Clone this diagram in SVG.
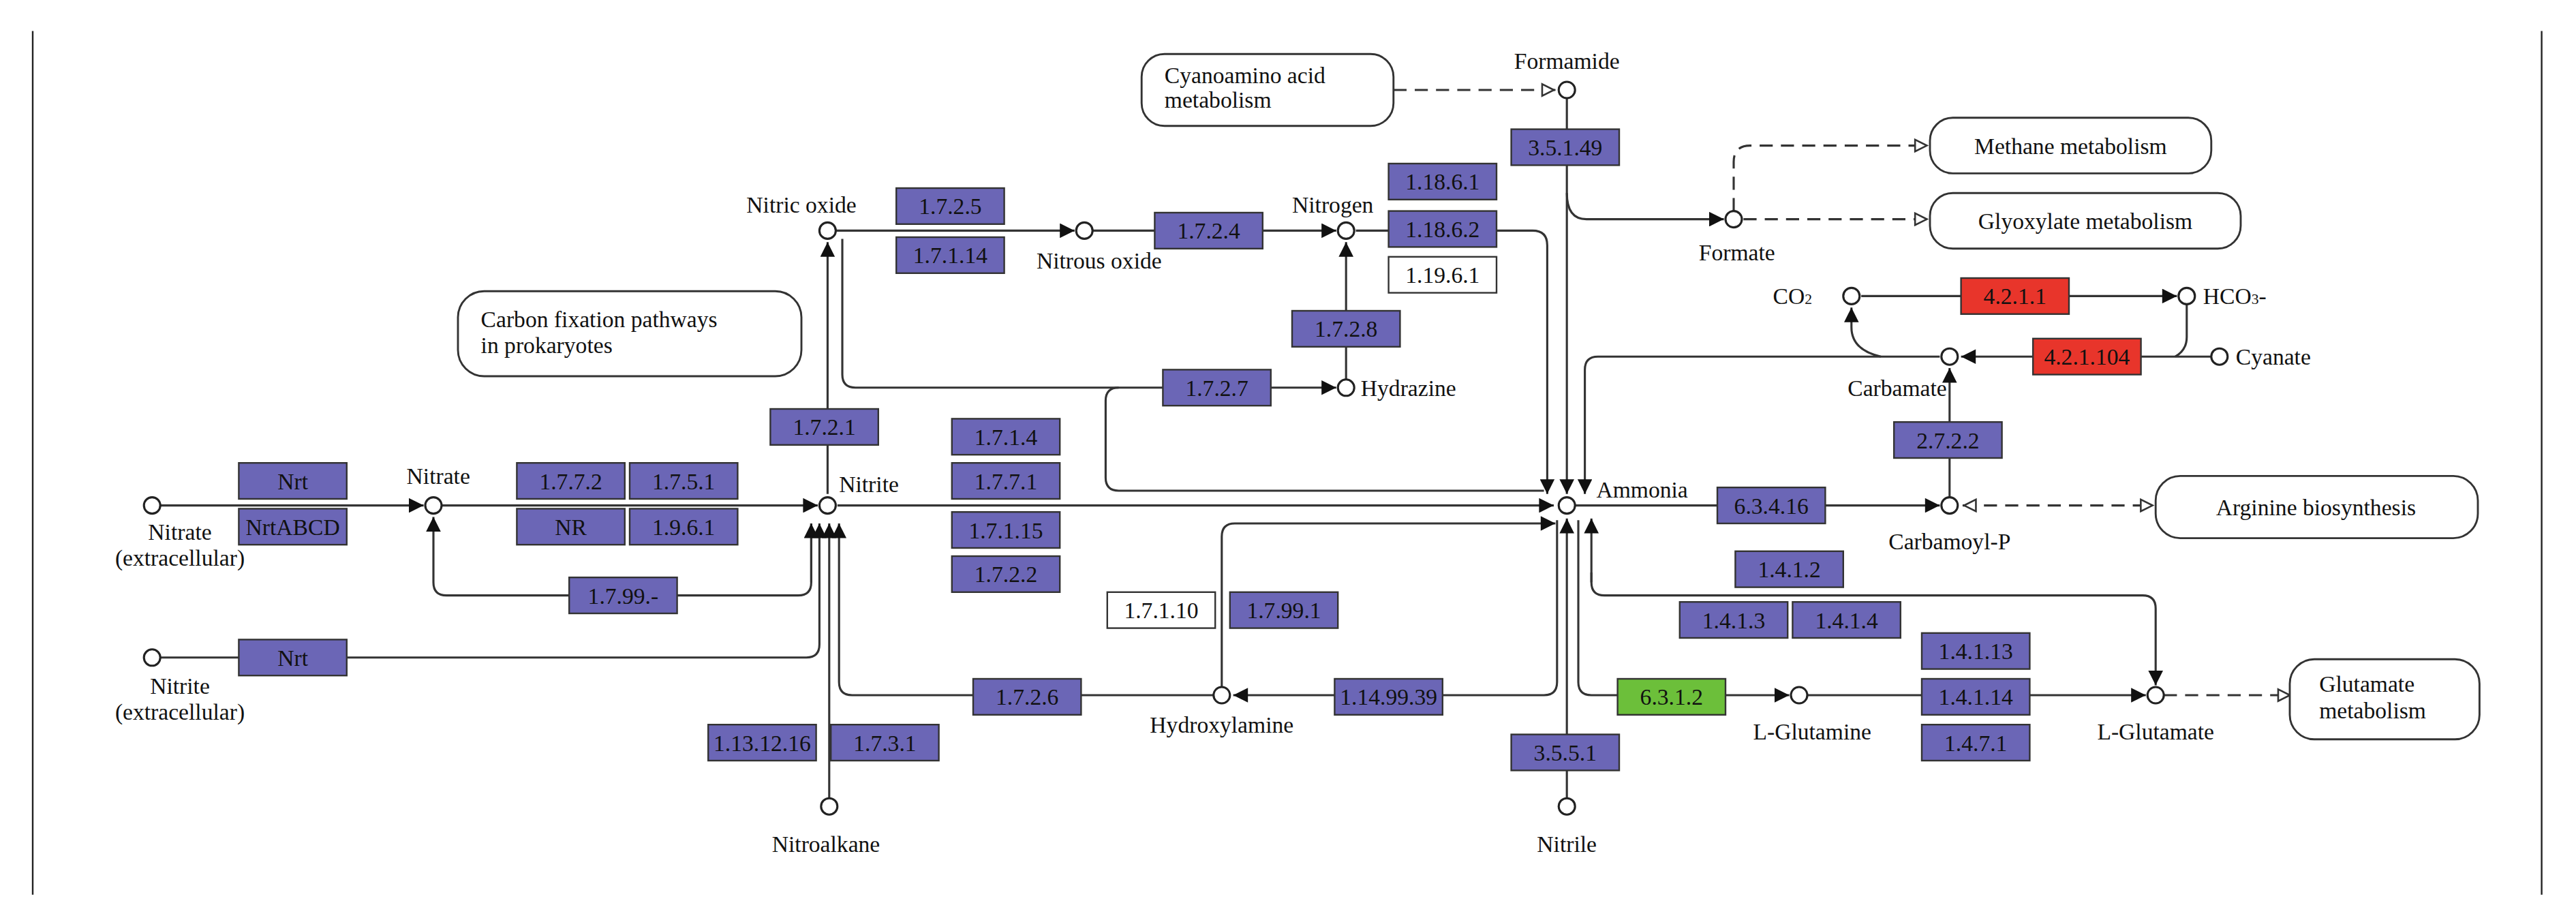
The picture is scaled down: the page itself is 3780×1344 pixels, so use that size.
<svg xmlns="http://www.w3.org/2000/svg" width="3780" height="1344" viewBox="0 0 3780 1344">
<defs>
<style>
.e{fill:#6b66b6;stroke:#333;stroke-width:1}
.w{fill:#fff;stroke:#333;stroke-width:1}
.r{fill:#e8352b;stroke:#333;stroke-width:1}
.g{fill:#6cbf3a;stroke:#333;stroke-width:1}
.et{font-family:"Liberation Serif","Times New Roman",serif;font-size:14px;fill:#111;text-anchor:middle}
.t{font-family:"Liberation Serif","Times New Roman",serif;font-size:14px;fill:#111}
.m{fill:#fff;stroke:#333;stroke-width:1.2}
.c{fill:#fff;stroke:#222;stroke-width:1.3}
.l{fill:none;stroke:#333;stroke-width:1.3}
.d{fill:none;stroke:#333;stroke-width:1.3;stroke-dasharray:8,5}
</style>
<marker id="a" viewBox="0 0 10 10" refX="10" refY="5" markerWidth="10" markerHeight="9" markerUnits="userSpaceOnUse" orient="auto"><path d="M0,0L10,5L0,10z" fill="#111"/></marker>
<marker id="o" viewBox="0 0 10 10" refX="10" refY="5" markerWidth="10" markerHeight="9" markerUnits="userSpaceOnUse" orient="auto"><path d="M1,1L9,5L1,9z" fill="#fff" stroke="#333" stroke-width="1.2"/></marker>
<marker id="os" viewBox="0 0 10 10" refX="0" refY="5" markerWidth="10" markerHeight="9" markerUnits="userSpaceOnUse" orient="auto"><path d="M9,1L1,5L9,9z" fill="#fff" stroke="#333" stroke-width="1.2"/></marker>
</defs>
<rect width="3780" height="1344" fill="#fff"/>
<g transform="scale(2.4)">
<line x1="20" y1="19" x2="20" y2="547" stroke="#222" stroke-width="1"/>
<line x1="1554" y1="19" x2="1554" y2="547" stroke="#222" stroke-width="1"/>

<g id="connectors">
<path class="l" d="M98,309H259" marker-end="url(#a)"/>
<path class="l" d="M270,309H500" marker-end="url(#a)"/>
<path class="l" d="M496,320V356Q496,364 488,364H273Q265,364 265,356V316" marker-end="url(#a)"/>
<path class="l" d="M496,356V320" marker-end="url(#a)"/>
<path class="l" d="M98,402H493Q501,402 501,394V320" marker-end="url(#a)"/>
<path class="l" d="M507,488V320" marker-end="url(#a)"/>
<path class="l" d="M742,425H521Q513,425 513,417V320" marker-end="url(#a)"/>
<path class="l" d="M506,302V148" marker-end="url(#a)"/>
<path class="l" d="M511,141H657" marker-end="url(#a)"/>
<path class="l" d="M668,141H817" marker-end="url(#a)"/>
<path class="l" d="M823,232V148" marker-end="url(#a)"/>
<path class="l" d="M515,146V229Q515,237 523,237H817" marker-end="url(#a)"/>
<path class="l" d="M684,237Q676,237 676,245V292Q676,300 684,300H944"/>
<path class="l" d="M829,141H937Q946,141 946,150V302" marker-end="url(#a)"/>
<path class="l" d="M958,60V302" marker-end="url(#a)"/>
<path class="l" d="M958,118Q958,134 970,134H1054" marker-end="url(#a)"/>
<path class="d" d="M1060,129V99Q1060,89 1070,89H1179" marker-end="url(#o)"/>
<path class="d" d="M1066,134H1179" marker-end="url(#o)"/>
<path class="d" d="M852,55H951" marker-end="url(#o)"/>
<path class="l" d="M1186,218H977Q969,218 969,226V302" marker-end="url(#a)"/>
<path class="l" d="M1352,218H1199" marker-end="url(#a)"/>
<path class="l" d="M1337,186V206Q1337,214 1330,218"/>
<path class="l" d="M1138,181H1331" marker-end="url(#a)"/>
<path class="l" d="M1150,218Q1132,214 1132,200V188" marker-end="url(#a)"/>
<path class="l" d="M1192,304V225" marker-end="url(#a)"/>
<path class="l" d="M963,309H1186" marker-end="url(#a)"/>
<path class="d" d="M1200,309H1317" marker-start="url(#os)" marker-end="url(#o)"/>
<path class="l" d="M512,309H950" marker-end="url(#a)"/>
<path class="l" d="M747,420V328Q747,320 755,320H951" marker-end="url(#a)"/>
<path class="l" d="M952,318V417Q952,425 944,425H754" marker-end="url(#a)"/>
<path class="l" d="M958,488V317" marker-end="url(#a)"/>
<path class="l" d="M965,318V417Q965,425 973,425H1094" marker-end="url(#a)"/>
<path class="l" d="M973,356V317" marker-end="url(#a)"/>
<path class="l" d="M973,350V356Q973,364 981,364H1310Q1318,364 1318,372V419" marker-end="url(#a)"/>
<path class="l" d="M1105,425H1312" marker-end="url(#a)"/>
<path class="d" d="M1323,425H1401" marker-end="url(#o)"/>
</g>

<g id="map_cyanoamino"><rect class="m" x="698" y="33" width="154" height="44" rx="14"/><text class="t" x="712" y="51">Cyanoamino acid</text><text class="t" x="712" y="66">metabolism</text></g>
<g id="map_methane"><rect class="m" x="1180" y="72" width="172" height="34" rx="14"/><text class="t" x="1266" y="94" text-anchor="middle">Methane metabolism</text></g>
<g id="map_glyoxylate"><rect class="m" x="1180" y="118" width="190" height="34" rx="14"/><text class="t" x="1275" y="140" text-anchor="middle">Glyoxylate metabolism</text></g>
<g id="map_carbon"><rect class="m" x="280" y="178" width="210" height="52" rx="16"/><text class="t" x="294" y="200">Carbon fixation pathways</text><text class="t" x="294" y="216">in prokaryotes</text></g>
<g id="map_arginine"><rect class="m" x="1318" y="291" width="197" height="38" rx="15"/><text class="t" x="1416" y="315" text-anchor="middle">Arginine biosynthesis</text></g>
<g id="map_glutamate"><rect class="m" x="1400" y="403" width="116" height="49" rx="15"/><text class="t" x="1418" y="423">Glutamate</text><text class="t" x="1418" y="439">metabolism</text></g>

<g id="c_nitrate_ext"><circle class="c" cx="93" cy="309" r="5"/><text class="t" x="110" y="330" text-anchor="middle">Nitrate</text><text class="t" x="110" y="346" text-anchor="middle">(extracellular)</text></g>
<g id="c_nitrite_ext"><circle class="c" cx="93" cy="402" r="5"/><text class="t" x="110" y="424" text-anchor="middle">Nitrite</text><text class="t" x="110" y="440" text-anchor="middle">(extracellular)</text></g>
<g id="c_nitrate"><circle class="c" cx="265" cy="309" r="5"/><text class="t" x="268" y="296" text-anchor="middle">Nitrate</text></g>
<g id="c_nitrite"><circle class="c" cx="506" cy="309" r="5"/><text class="t" x="513" y="301">Nitrite</text></g>
<g id="c_nitric"><circle class="c" cx="506" cy="141" r="5"/><text class="t" x="490" y="130" text-anchor="middle">Nitric oxide</text></g>
<g id="c_nitrous"><circle class="c" cx="663" cy="141" r="5"/><text class="t" x="672" y="164" text-anchor="middle">Nitrous oxide</text></g>
<g id="c_nitrogen"><circle class="c" cx="823" cy="141" r="5"/><text class="t" x="790" y="130">Nitrogen</text></g>
<g id="c_hydrazine"><circle class="c" cx="823" cy="237" r="5"/><text class="t" x="832" y="242">Hydrazine</text></g>
<g id="c_formamide"><circle class="c" cx="958" cy="55" r="5"/><text class="t" x="958" y="42" text-anchor="middle">Formamide</text></g>
<g id="c_formate"><circle class="c" cx="1060" cy="134" r="5"/><text class="t" x="1062" y="159" text-anchor="middle">Formate</text></g>
<g id="c_co2"><circle class="c" cx="1132" cy="181" r="5"/><text class="t" x="1084" y="186">CO<tspan font-size="9">2</tspan></text></g>
<g id="c_hco3"><circle class="c" cx="1337" cy="181" r="5"/><text class="t" x="1347" y="186">HCO<tspan font-size="9">3</tspan>-</text></g>
<g id="c_carbamate"><circle class="c" cx="1192" cy="218" r="5"/><text class="t" x="1160" y="242" text-anchor="middle">Carbamate</text></g>
<g id="c_cyanate"><circle class="c" cx="1357" cy="218" r="5"/><text class="t" x="1367" y="223">Cyanate</text></g>
<g id="c_ammonia"><circle class="c" cx="958" cy="309" r="5"/><text class="t" x="976" y="304">Ammonia</text></g>
<g id="c_carbamoylp"><circle class="c" cx="1192" cy="309" r="5"/><text class="t" x="1192" y="336" text-anchor="middle">Carbamoyl-P</text></g>
<g id="c_hydroxylamine"><circle class="c" cx="747" cy="425" r="5"/><text class="t" x="747" y="448" text-anchor="middle">Hydroxylamine</text></g>
<g id="c_nitroalkane"><circle class="c" cx="507" cy="493" r="5"/><text class="t" x="505" y="521" text-anchor="middle">Nitroalkane</text></g>
<g id="c_nitrile"><circle class="c" cx="958" cy="493" r="5"/><text class="t" x="958" y="521" text-anchor="middle">Nitrile</text></g>
<g id="c_glutamine"><circle class="c" cx="1100" cy="425" r="5"/><text class="t" x="1108" y="452" text-anchor="middle">L-Glutamine</text></g>
<g id="c_glutamate"><circle class="c" cx="1318" cy="425" r="5"/><text class="t" x="1318" y="452" text-anchor="middle">L-Glutamate</text></g>

<g id="e_nrt1"><rect class="e" x="146" y="283" width="66" height="22"/><text class="et" x="179" y="299">Nrt</text></g>
<g id="e_nrtabcd"><rect class="e" x="146" y="311" width="66" height="22"/><text class="et" x="179" y="327" font-size="12">NrtABCD</text></g>
<g id="e_nrt2"><rect class="e" x="146" y="391" width="66" height="22"/><text class="et" x="179" y="407">Nrt</text></g>
<g id="e_1772"><rect class="e" x="316" y="283" width="66" height="22"/><text class="et" x="349" y="299">1.7.7.2</text></g>
<g id="e_1751"><rect class="e" x="385" y="283" width="66" height="22"/><text class="et" x="418" y="299">1.7.5.1</text></g>
<g id="e_nr"><rect class="e" x="316" y="311" width="66" height="22"/><text class="et" x="349" y="327">NR</text></g>
<g id="e_1961"><rect class="e" x="385" y="311" width="66" height="22"/><text class="et" x="418" y="327">1.9.6.1</text></g>
<g id="e_1799"><rect class="e" x="348" y="353" width="66" height="22"/><text class="et" x="381" y="369">1.7.99.-</text></g>
<g id="e_1725"><rect class="e" x="548" y="115" width="66" height="22"/><text class="et" x="581" y="131">1.7.2.5</text></g>
<g id="e_17114"><rect class="e" x="548" y="145" width="66" height="22"/><text class="et" x="581" y="161">1.7.1.14</text></g>
<g id="e_1724"><rect class="e" x="706" y="130" width="66" height="22"/><text class="et" x="739" y="146">1.7.2.4</text></g>
<g id="e_11861"><rect class="e" x="849" y="100" width="66" height="22"/><text class="et" x="882" y="116">1.18.6.1</text></g>
<g id="e_11862"><rect class="e" x="849" y="129" width="66" height="22"/><text class="et" x="882" y="145">1.18.6.2</text></g>
<g id="e_11961"><rect class="w" x="849" y="157" width="66" height="22"/><text class="et" x="882" y="173">1.19.6.1</text></g>
<g id="e_35149"><rect class="e" x="924" y="79" width="66" height="22"/><text class="et" x="957" y="95">3.5.1.49</text></g>
<g id="e_1728"><rect class="e" x="790" y="190" width="66" height="22"/><text class="et" x="823" y="206">1.7.2.8</text></g>
<g id="e_1727"><rect class="e" x="711" y="226" width="66" height="22"/><text class="et" x="744" y="242">1.7.2.7</text></g>
<g id="e_1721"><rect class="e" x="471" y="250" width="66" height="22"/><text class="et" x="504" y="266">1.7.2.1</text></g>
<g id="e_1714"><rect class="e" x="582" y="256" width="66" height="22"/><text class="et" x="615" y="272">1.7.1.4</text></g>
<g id="e_1771"><rect class="e" x="582" y="283" width="66" height="22"/><text class="et" x="615" y="299">1.7.7.1</text></g>
<g id="e_17115"><rect class="e" x="582" y="313" width="66" height="22"/><text class="et" x="615" y="329">1.7.1.15</text></g>
<g id="e_1722"><rect class="e" x="582" y="340" width="66" height="22"/><text class="et" x="615" y="356">1.7.2.2</text></g>
<g id="e_17110"><rect class="w" x="677" y="362" width="66" height="22"/><text class="et" x="710" y="378">1.7.1.10</text></g>
<g id="e_17991"><rect class="e" x="752" y="362" width="66" height="22"/><text class="et" x="785" y="378">1.7.99.1</text></g>
<g id="e_1726"><rect class="e" x="595" y="415" width="66" height="22"/><text class="et" x="628" y="431">1.7.2.6</text></g>
<g id="e_1149939"><rect class="e" x="816" y="415" width="66" height="22"/><text class="et" x="849" y="431" font-size="12">1.14.99.39</text></g>
<g id="e_1131216"><rect class="e" x="433" y="443" width="66" height="22"/><text class="et" x="466" y="459" font-size="12">1.13.12.16</text></g>
<g id="e_1731"><rect class="e" x="508" y="443" width="66" height="22"/><text class="et" x="541" y="459">1.7.3.1</text></g>
<g id="e_3551"><rect class="e" x="924" y="449" width="66" height="22"/><text class="et" x="957" y="465">3.5.5.1</text></g>
<g id="e_6312"><rect class="g" x="989" y="415" width="66" height="22"/><text class="et" x="1022" y="431">6.3.1.2</text></g>
<g id="e_63416"><rect class="e" x="1050" y="298" width="66" height="22"/><text class="et" x="1083" y="314">6.3.4.16</text></g>
<g id="e_2722"><rect class="e" x="1158" y="258" width="66" height="22"/><text class="et" x="1191" y="274">2.7.2.2</text></g>
<g id="e_4211"><rect class="r" x="1199" y="170" width="66" height="22"/><text class="et" x="1232" y="186">4.2.1.1</text></g>
<g id="e_421104"><rect class="r" x="1243" y="207" width="66" height="22"/><text class="et" x="1276" y="223">4.2.1.104</text></g>
<g id="e_1412"><rect class="e" x="1061" y="337" width="66" height="22"/><text class="et" x="1094" y="353">1.4.1.2</text></g>
<g id="e_1413"><rect class="e" x="1027" y="368" width="66" height="22"/><text class="et" x="1060" y="384">1.4.1.3</text></g>
<g id="e_1414"><rect class="e" x="1096" y="368" width="66" height="22"/><text class="et" x="1129" y="384">1.4.1.4</text></g>
<g id="e_14113"><rect class="e" x="1175" y="387" width="66" height="22"/><text class="et" x="1208" y="403">1.4.1.13</text></g>
<g id="e_14114"><rect class="e" x="1175" y="415" width="66" height="22"/><text class="et" x="1208" y="431">1.4.1.14</text></g>
<g id="e_1471"><rect class="e" x="1175" y="443" width="66" height="22"/><text class="et" x="1208" y="459">1.4.7.1</text></g>
</g>
</svg>
